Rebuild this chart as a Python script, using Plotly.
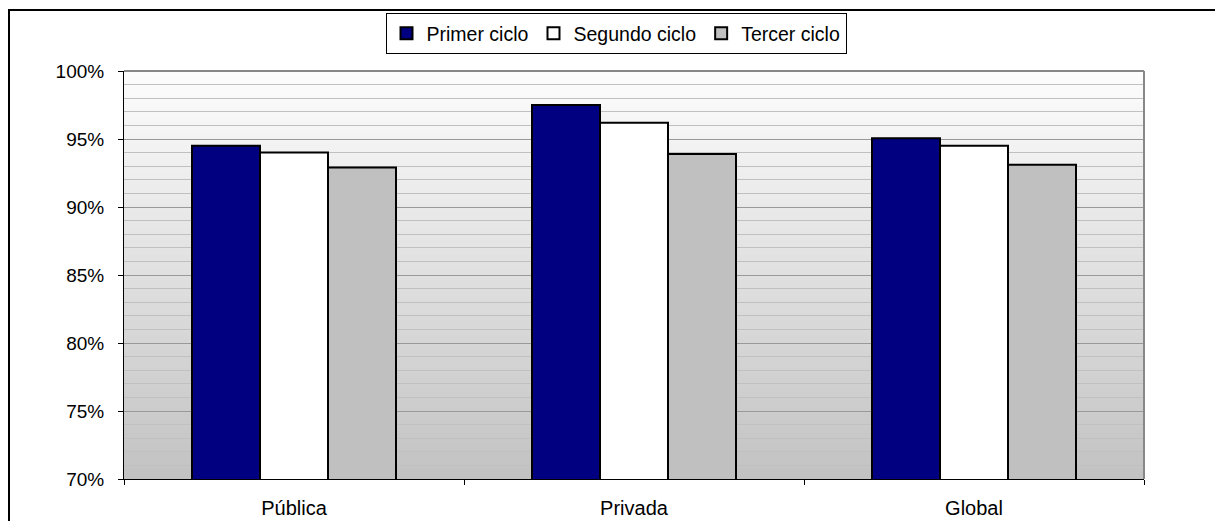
import plotly.graph_objects as go

categories = ["Pública", "Privada", "Global"]
series_names = ["Primer ciclo", "Segundo ciclo", "Tercer ciclo"]
primer = [0.945, 0.975, 0.9505]
segundo = [0.940, 0.962, 0.945]
tercer = [0.929, 0.939, 0.931]
series_values = [primer, segundo, tercer]
series_colors = ["#000080", "#ffffff", "#c0c0c0"]

FONT = "Arial, 'Liberation Sans', sans-serif"

fig = go.Figure()
for name, vals, col in zip(series_names, series_values, series_colors):
    fig.add_trace(go.Bar(
        x=categories, y=vals, name=name,
        marker=dict(color=col, line=dict(color="black", width=2)),
    ))

# gradient background of plot area (white at top to gray at bottom)
n = 80
top = (253, 253, 253)
bot = (194, 194, 194)
for i in range(n):
    t = (i + 0.5) / n
    c = tuple(round(bot[k] + (top[k] - bot[k]) * t) for k in range(3))
    fig.add_shape(type="rect", xref="x domain", yref="y domain",
                  x0=0, x1=1, y0=i / n, y1=(i + 1) / n + 0.002,
                  fillcolor="rgb(%d,%d,%d)" % c, line=dict(width=0), layer="below")

# gray top and right edges of plot area
fig.add_shape(type="line", xref="x domain", yref="y domain", x0=0, x1=1, y0=1, y1=1,
              line=dict(color="#888888", width=2))
fig.add_shape(type="line", xref="x domain", yref="y domain", x0=1, x1=1, y0=0, y1=1,
              line=dict(color="#888888", width=2))

# outer chart border (cut off at right and bottom)
fig.add_shape(type="rect", xref="paper", yref="paper",
              x0=(9 - 124) / 1020, x1=(1230 - 124) / 1020,
              y0=(479 - 540) / 408, y1=(479 - 10) / 408,
              line=dict(color="black", width=2), fillcolor="rgba(0,0,0,0)", layer="below")

fig.update_layout(
    width=1215, height=521,
    margin=dict(l=124, r=71, t=71, b=42),
    paper_bgcolor="white", plot_bgcolor="white",
    barmode="group", bargap=0.4, bargroupgap=0,
    font=dict(family=FONT, size=19, color="black"),
    showlegend=True,
    legend=dict(orientation="h", x=(616 - 124) / 1020, xanchor="center",
                y=(479 - 13) / 408, yanchor="top",
                bgcolor="white", bordercolor="black", borderwidth=1,
                font=dict(family=FONT, size=19.5, color="black"),
                itemwidth=30, tracegroupgap=0),
)
fig.update_xaxes(
    showline=True, linecolor="black", linewidth=1,
    ticks="outside", tickson="boundaries", ticklen=5, tickcolor="black",
    showgrid=False, ticklabelstandoff=11, automargin=False,
    tickfont=dict(size=20),
)
fig.update_yaxes(
    range=[0.70, 1.00], dtick=0.05, tickformat=".0%",
    showline=True, linecolor="black", linewidth=1,
    ticks="outside", ticklen=5, tickcolor="black",
    showgrid=True, gridcolor="#999999", gridwidth=1,
    minor=dict(dtick=0.01, showgrid=True, gridcolor="#c0c0c0", gridwidth=1),
    zeroline=False, ticklabelstandoff=10, automargin=False,
)

fig.write_html("out.html", config={"displayModeBar": False},
               post_script="document.body.style.margin='0';document.body.style.overflow='hidden';")
